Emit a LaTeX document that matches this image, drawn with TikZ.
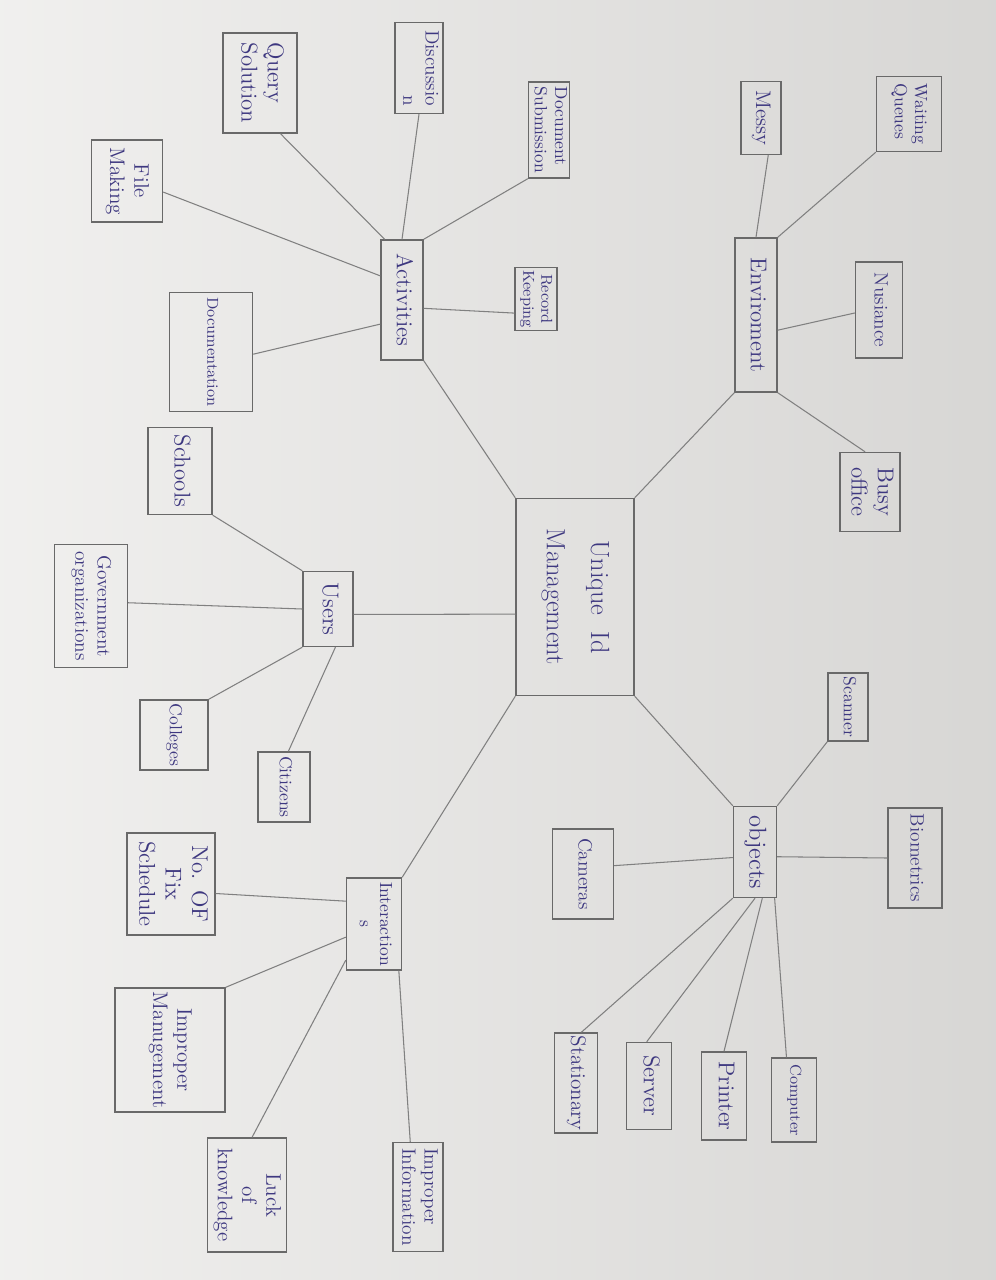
\documentclass[tikz,border=0pt]{standalone}
\usepackage{graphicx}

\definecolor{ink}{RGB}{62,56,128}
\definecolor{pencil}{RGB}{105,105,105}
\definecolor{paper}{RGB}{234,233,231}

\newcommand{\vlbl}[2][c]{\rotatebox{-90}{\begin{tabular}{@{}#1@{}}#2\end{tabular}}}

\begin{document}
\begin{tikzpicture}[x=0.02cm, y=-0.02cm,
		box/.style 2 args={draw=pencil, line width=0.8pt, inner sep=0pt, text=ink,
			minimum width=#1*0.02cm, minimum height=#2*0.02cm},
		sz/.style={font=\linespread{1.15}\fontsize{#1}{#1}\selectfont},
		link/.style={draw=pencil!85, line width=0.6pt}]
		% Paper
		\shade[left color=paper!70!white, right color=paper!92!black] (0,0) rectangle (996,1280);
		\useasboundingbox (0,0) rectangle (996,1280);
		% Centre
		\node[box={118}{197}, sz=15] (uim) at (575,597) {\vlbl{Unique\ \ Id\\[8pt]Management}};
		% Environment
		\node[box={42}{154}, sz=13] (env) at (756,315) {\vlbl{Enviroment}};
		\node[box={47}{96}, sz=11] (nuis) at (879,310) {\vlbl{Nusiance}};
		\node[box={60}{79}, sz=13] (busy) at (870,492) {\vlbl{Busy\\office}};
		\node[box={40}{73}, sz=12] (messy) at (761,118) {\vlbl{Messy}};
		\node[box={65}{75}, sz=10] (queues) at (909,114) {\vlbl[l]{Waiting\\Queues}};
		% Activities
		\node[box={42}{120}, sz=13] (act) at (402,300) {\vlbl{Activities}};
		\node[box={41}{96}, sz=10] (docsub) at (549,130) {\vlbl[l]{Document\\Submission}};
		\node[box={48}{91}, sz=11] (disc) at (419,68) {\vlbl[r]{Discussio\\n}};
		\node[box={74}{100}, sz=13] (query) at (260,83) {\vlbl[l]{Query\\Solution}};
		\node[box={71}{82}, sz=12] (file) at (127,181) {\vlbl{File\\Making}};
		\node[box={42}{63}, sz=9] (record) at (536,299) {\vlbl{Record\\Keeping}};
		\node[box={83}{119}, sz=9] (docn) at (211,352) {\vlbl{Documentation}};
		% Users
		\node[box={50}{75}, sz=13] (users) at (328,609) {\vlbl{Users}};
		\node[box={64}{87}, sz=13] (schools) at (180,471) {\vlbl{Schools}};
		\node[box={73}{123}, sz=11] (gov) at (91,606) {\vlbl{Government\\organizations}};
		\node[box={68}{70}, sz=10] (colleges) at (174,735) {\vlbl{Colleges}};
		\node[box={52}{70}, sz=10] (citizens) at (284,787) {\vlbl{Citizens}};
		% Interactions
		\node[box={55}{92}, sz=10] (inter) at (374,924) {\vlbl{Interaction\\s}};
		\node[box={88}{102}, sz=13] (fixsch) at (171,884) {\vlbl{No. OF\\Fix\\Schedule}};
		\node[box={110}{124}, sz=12] (impmgmt) at (170,1050) {\vlbl{Improper\\Manugement}};
		\node[box={79}{114}, sz=12] (lack) at (247,1195) {\vlbl{Luck\\of\\knowledge}};
		\node[box={50}{109}, sz=11] (impinfo) at (418,1197) {\vlbl[l]{Improper\\Information}};
		% Objects
		\node[box={43}{91}, sz=14] (obj) at (755,852) {\vlbl{objects}};
		\node[box={40}{68}, sz=10] (scanner) at (848,707) {\vlbl{Scanner}};
		\node[box={54}{100}, sz=11] (bio) at (915,858) {\vlbl{Biometrics}};
		\node[box={61}{90}, sz=11] (cameras) at (583,874) {\vlbl{Cameras}};
		\node[box={43}{100}, sz=12] (stat) at (576,1083) {\vlbl{Stationary}};
		\node[box={45}{87}, sz=13] (server) at (649,1086) {\vlbl{Server}};
		\node[box={45}{88}, sz=13] (printer) at (724,1096) {\vlbl{Printer}};
		\node[box={45}{84}, sz=9] (computer) at (794,1100) {\vlbl{Computer}};
		% Links
		\draw[link] (env.south west) -- (uim.north east);
		\draw[link] (env.-35) -- (nuis.187);
		\draw[link] (env.south east) -- (busy.97);
		\draw[link] (messy.-79) -- (env.north);
		\draw[link] (queues.south west) -- (env.north east);
		\draw[link] (act.south east) -- (uim.north west);
		\draw[link] (docsub.south west) -- (act.north east);
		\draw[link] (disc.south) -- (act.north);
		\draw[link] (query.-68) -- (act.106);
		\draw[link] (file.-17) -- (act.132);
		\draw[link] (act.-21) -- (record.213);
		\draw[link] (docn.-3) -- (act.228);
		\draw[link] (users.-12) -- (uim.196);
		\draw[link] (schools.south east) -- (users.north west);
		\draw[link] (gov.5) -- (users.west);
		\draw[link] (colleges.north east) -- (users.south west);
		\draw[link] (citizens.83) -- (users.-79);
		\draw[link] (uim.south west) -- (inter.north east);
		\draw[link] (fixsch.-12) -- (inter.141);
		\draw[link] (impmgmt.north east) -- (inter.205);
		\draw[link] (lack.85) -- (inter.232);
		\draw[link] (impinfo.98) -- (inter.-62);
		\draw[link] (uim.south east) -- (obj.north west);
		\draw[link] (scanner.south west) -- (obj.north east);
		\draw[link] (obj.-12) -- (bio.west);
		\draw[link] (cameras.15) -- (obj.194);
		\draw[link] (stat.84) -- (obj.south west);
		\draw[link] (server.93) -- (obj.south);
		\draw[link] (printer.north) -- (obj.-81);
		\draw[link] (computer.100) -- (obj.-67);
	\end{tikzpicture}
\end{document}
